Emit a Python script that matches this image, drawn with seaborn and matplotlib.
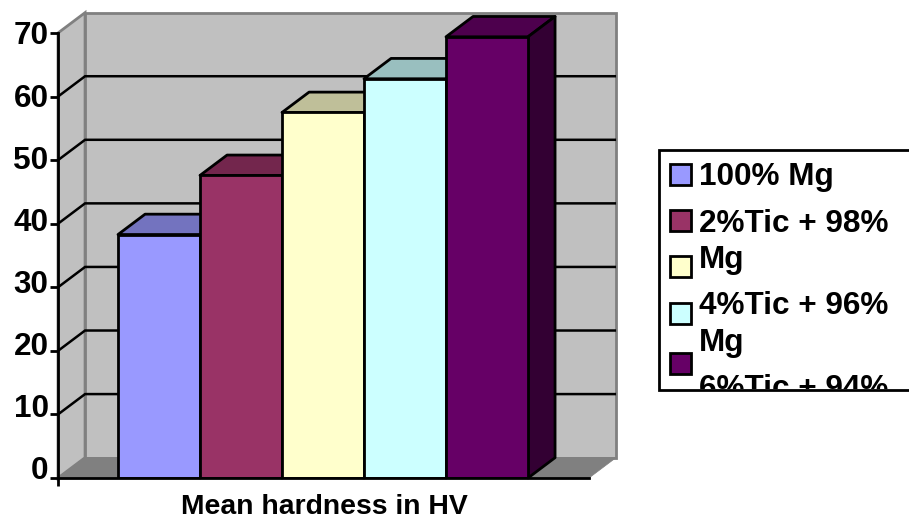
import matplotlib
matplotlib.use("Agg")
import matplotlib.pyplot as plt
import matplotlib.colors as mc
from matplotlib.patches import Polygon, Rectangle
from matplotlib.transforms import ScaledTranslation
import pandas as pd
import seaborn as sns

categories = ["100% Mg", "2%Tic + 98% Mg", "4%Tic + 96% Mg", "6%Tic + 94% Mg", "8%Tic + 92% Mg"]
hardness = [38.3, 47.6, 57.5, 62.8, 69.4]
bar_colors = ["#9999FF", "#993366", "#FFFFCC", "#CCFFFF", "#660066"]
y_ticks = [0, 10, 20, 30, 40, 50, 60, 70]
x_label = "Mean hardness in HV"
legend_lines = ["100% Mg", "2%Tic + 98%", "Mg", "4%Tic + 96%", "Mg", "6%Tic + 94%"]

W, H = 909, 519
sns.set_theme(style="white")
plt.rcParams["font.family"] = ["Liberation Sans", "DejaVu Sans"]
plt.rcParams["font.weight"] = "bold"
FS = 22.7
LW = 2.0


def fx(x):
    return x / W


def fy(y):
    return 1 - y / H


fig = plt.figure(figsize=(W / 100, H / 100), dpi=100, facecolor="white")
ax = fig.add_axes([fx(58), fy(478), (589 - 58) / W, (478 - 33) / H])
ax.patch.set_alpha(0)

df = pd.DataFrame({"sample": categories, "hardness": hardness})
sns.barplot(data=df, x="sample", y="hardness", hue="sample", palette=bar_colors,
            width=1.0, dodge=False, legend=False, saturation=1,
            edgecolor="black", linewidth=LW, zorder=5, ax=ax)

xmin, xmax = -1.232, 5.244
ymax = y_ticks[-1]
dx, dy = 0.33, 3.2
ax.set_xlim(xmin, xmax)
ax.set_ylim(0, ymax)

# walls and floor
ax.add_patch(Polygon([(xmin, 0), (xmin + dx, dy), (xmin + dx, ymax + dy), (xmin, ymax)],
                     fc="#C0C0C0", ec="#808080", lw=LW, clip_on=False, zorder=0.5))
ax.add_patch(Rectangle((xmin + dx, dy), xmax - xmin, ymax, fc="#C0C0C0", ec="#808080",
                       lw=LW, clip_on=False, zorder=0.6))
ax.add_patch(Polygon([(xmin, 0), (xmin + dx, dy), (xmax + dx, dy), (xmax, 0)],
                     fc="#808080", ec="#808080", lw=0.5, clip_on=False, zorder=0.7))

for v in y_ticks[1:-1]:
    ax.plot([xmin, xmin + dx, xmax + dx], [v, v + dy, v + dy], color="black", lw=LW * 0.9,
            clip_on=False, zorder=1, solid_joinstyle="miter", solid_capstyle="butt")

# 3D faces of the bars
for i, (v, c) in enumerate(zip(hardness, bar_colors)):
    rgb = mc.to_rgb(c)
    top = tuple(0.75 * k for k in rgb)
    side = tuple(0.5 * k for k in rgb)
    l, r = i - 0.5, i + 0.5
    ax.add_patch(Polygon([(l, v), (l + dx, v + dy), (r + dx, v + dy), (r, v)],
                         fc=top, ec="black", lw=LW, clip_on=False, zorder=2 + i * 0.1,
                         joinstyle="round"))
    ax.add_patch(Polygon([(r, 0), (r + dx, dy), (r + dx, v + dy), (r, v)],
                         fc=side, ec="black", lw=LW, clip_on=False, zorder=2 + i * 0.1,
                         joinstyle="round"))

# axes
sns.despine(ax=ax, top=True, right=True)
for s in ("left", "bottom"):
    ax.spines[s].set_color("black")
    ax.spines[s].set_linewidth(LW)
    ax.spines[s].set_zorder(6)
ax.set_yticks(y_ticks)
ax.set_xticks([xmin])
ax.set_xticklabels([""])
ax.tick_params(axis="x", length=5.8, width=LW, color="black", bottom=True)
ax.tick_params(axis="y", length=5.8, width=LW, color="black", left=True, pad=1,
               labelsize=FS, labelcolor="black")
ax.set_ylabel("")
ax.set_xlabel("")
for tick, v in zip(ax.yaxis.get_major_ticks(), y_ticks):
    lab = tick.label1
    lab.set_fontweight("bold")
    lab.set_verticalalignment("center_baseline")
    lab.set_transform(lab.get_transform() +
                      ScaledTranslation(0, (ymax - v) * 0.157 / 100, fig.dpi_scale_trans))

fig.text(fx(324), fy(514), x_label, ha="center", va="baseline", fontsize=FS * 0.9,
         fontweight="bold", color="black")

# legend (overflowing, clipped by its frame as in the original)
box = Rectangle((fx(659), fy(390)), (W + 5 - 659) / W, (390 - 150) / H, transform=fig.transFigure,
                fc="white", ec="black", lw=LW, zorder=8, clip_on=False)
fig.add_artist(box)
swatch_tops = [164, 210, 256, 303, 353]
for t, c in zip(swatch_tops, bar_colors):
    fig.add_artist(Rectangle((fx(669.5), fy(t + 21)), 21 / W, 21 / H, transform=fig.transFigure,
                             fc=c, ec="black", lw=LW, zorder=9))
baselines = [185, 232, 268, 314, 351, 397]
for line, b in zip(legend_lines, baselines):
    t = fig.text(fx(699), fy(b), line, ha="left", va="baseline", fontsize=FS, fontweight="bold",
                 color="black", zorder=9)
    clip = Rectangle((fx(659), fy(389)), (W - 659) / W, (389 - 151) / H, transform=fig.transFigure)
    t.set_clip_path(clip)
    t.set_clip_on(True)

fig.savefig("out.png", dpi=100, facecolor="white")
